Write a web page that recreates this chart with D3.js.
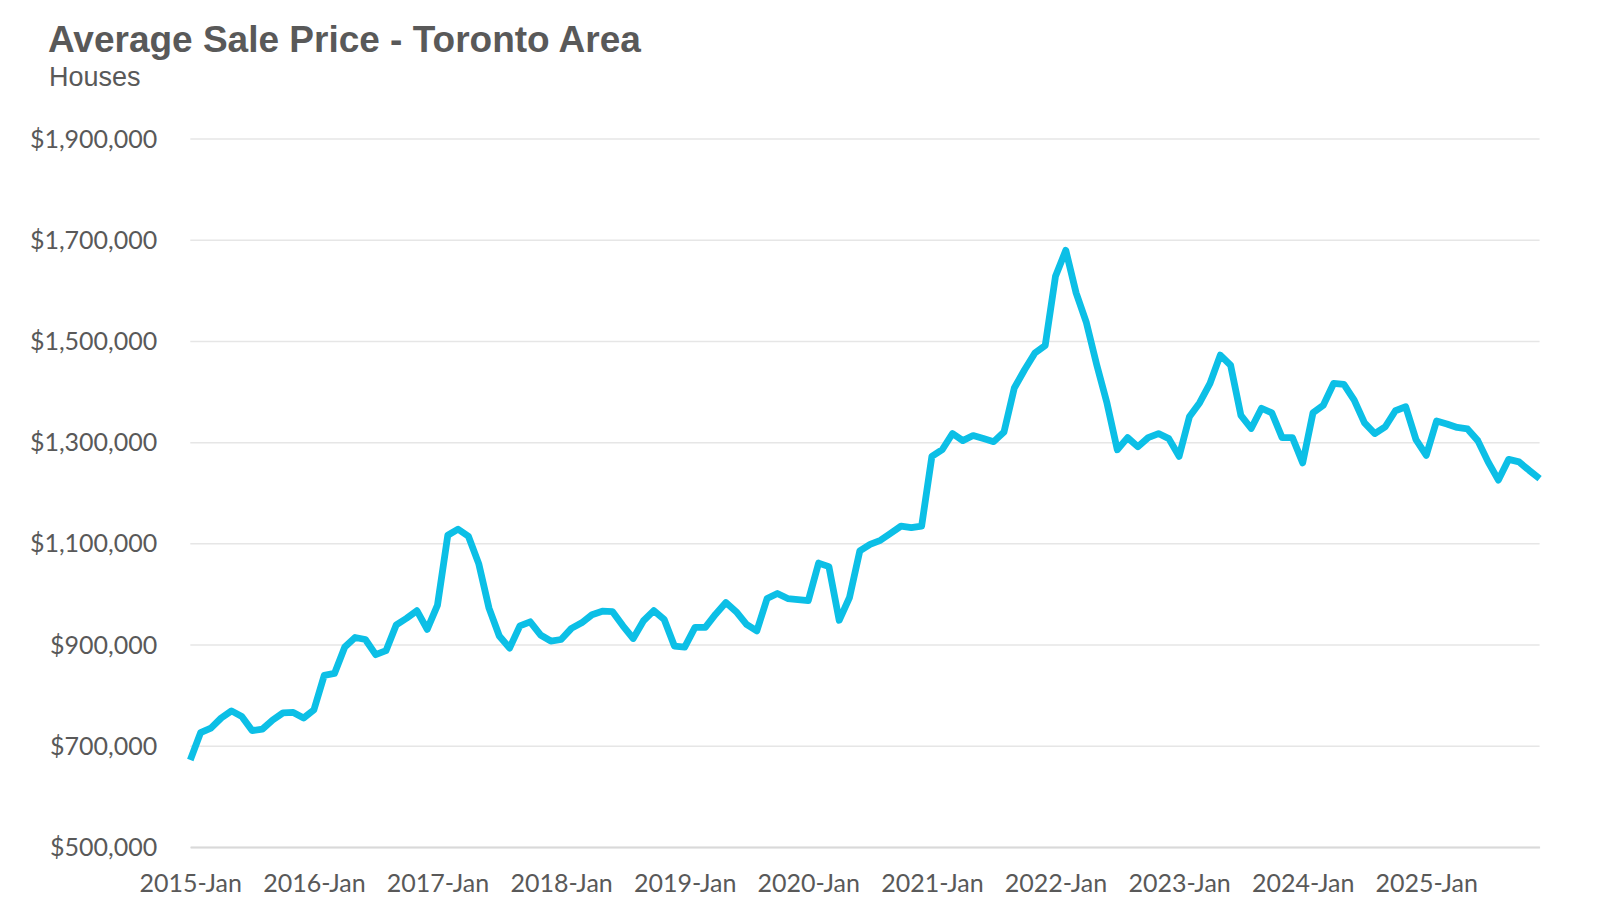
<!DOCTYPE html>
<html lang="en">
<head>
<meta charset="utf-8">
<title>Average Sale Price - Toronto Area</title>
<script src="https://d3js.org/d3.v7.min.js"></script>
<style>
  body { margin: 0; background: #fff; }
  .tick text { font-family: Lato, "Open Sans", sans-serif; font-size: 25px; fill: #595959; }
</style>
</head>
<body>
<svg id="chart"></svg>
<script>
  // monthly average sale price, houses, by year (Jan..Dec)
  const price2015 = [672000, 726000, 735000, 755000, 769000, 758000, 730000, 733000, 751000, 765000, 766000, 755000];
  const price2016 = [771000, 839000, 843000, 895000, 914000, 910000, 880000, 888000, 939000, 952000, 967000, 930000];
  const price2017 = [978000, 1116000, 1128000, 1114000, 1060000, 972000, 917000, 893000, 937000, 945000, 919000, 907000];
  const price2018 = [910000, 932000, 943000, 959000, 966000, 965000, 937000, 912000, 947000, 967000, 950000, 897000];
  const price2019 = [895000, 934000, 934000, 960000, 983000, 965000, 940000, 927000, 991000, 1001000, 991000, 989000];
  const price2020 = [987000, 1061000, 1054000, 948000, 993000, 1085000, 1098000, 1106000, 1120000, 1134000, 1131000, 1134000];
  const price2021 = [1272000, 1285000, 1317000, 1303000, 1313000, 1307000, 1301000, 1320000, 1407000, 1443000, 1476000, 1491000];
  const price2022 = [1628000, 1679000, 1595000, 1536000, 1453000, 1377000, 1285000, 1309000, 1291000, 1309000, 1317000, 1307000];
  const price2023 = [1272000, 1350000, 1378000, 1416000, 1472000, 1452000, 1353000, 1327000, 1367000, 1358000, 1309000, 1309000];
  const price2024 = [1259000, 1358000, 1373000, 1416000, 1414000, 1383000, 1338000, 1317000, 1330000, 1362000, 1370000, 1305000];
  const price2025 = [1274000, 1342000, 1336000, 1329000, 1326000, 1303000, 1261000, 1225000, 1266000, 1261000, 1244000, 1228000];

  const years = [2015, 2016, 2017, 2018, 2019, 2020, 2021, 2022, 2023, 2024, 2025];
  const monthNames = ["Jan", "Feb", "Mar", "Apr", "May", "Jun", "Jul", "Aug", "Sep", "Oct", "Nov", "Dec"];
  const xTickLabels = ["2015-Jan", "2016-Jan", "2017-Jan", "2018-Jan", "2019-Jan", "2020-Jan",
                       "2021-Jan", "2022-Jan", "2023-Jan", "2024-Jan", "2025-Jan"];
  const yTicks = [500000, 700000, 900000, 1100000, 1300000, 1500000, 1700000, 1900000];

  const byYear = [price2015, price2016, price2017, price2018, price2019, price2020,
                  price2021, price2022, price2023, price2024, price2025];

  let data = [];
  years.forEach(function (yr, i) {
    byYear[i].forEach(function (v, m) {
      data.push({ label: yr + "-" + monthNames[m], value: v });
    });
  });

  // basic parameters
  let chartW = 1600, chartH = 921;
  let plotLeft = 190.3, plotRight = 1539.6, plotTop = 138.5, plotBottom = 847;

  let svg = d3.select("#chart").attr("width", chartW).attr("height", chartH);

  let x = d3.scalePoint()
    .domain(data.map(d => d.label))
    .range([plotLeft, plotRight]);
  let y = d3.scaleLinear()
    .domain([500000, 1900000])
    .range([plotBottom, plotTop]);

  // gridlines + y labels
  let yAxis = d3.axisLeft(y)
    .tickValues(yTicks)
    .tickFormat(d3.format("$,"))
    .tickSize(-(plotRight - plotLeft))
    .tickPadding(33);
  let yg = svg.append("g")
    .attr("transform", "translate(" + plotLeft + ",0)")
    .call(yAxis);
  yg.select(".domain").remove();
  yg.selectAll(".tick line")
    .attr("stroke", "#e6e6e6")
    .attr("stroke-width", 1.5);
  yg.selectAll(".tick text").attr("dy", "0.34em");

  // x axis
  let xAxis = d3.axisBottom(x)
    .tickValues(xTickLabels)
    .tickSize(0);
  let xg = svg.append("g")
    .attr("transform", "translate(0," + plotBottom + ")")
    .call(xAxis);
  xg.select(".domain")
    .attr("stroke", "#d9d9d9")
    .attr("stroke-width", 2);
  xg.selectAll(".tick text")
    .attr("y", 45)
    .attr("dy", 0);

  // price line
  let line = d3.line()
    .x(d => x(d.label))
    .y(d => y(d.value));
  svg.append("path")
    .datum(data)
    .attr("d", line)
    .attr("fill", "none")
    .attr("stroke", "#0cbfe6")
    .attr("stroke-width", 6.8)
    .attr("stroke-linejoin", "round");

  // titles
  svg.append("text")
    .text("Average Sale Price - Toronto Area")
    .attr("x", 48)
    .attr("y", 52)
    .style("font-family", "'Liberation Sans', Arial, sans-serif")
    .style("font-weight", "bold")
    .style("font-size", "37px")
    .style("fill", "#595959");
  svg.append("text")
    .text("Houses")
    .attr("x", 49)
    .attr("y", 86)
    .style("font-family", "'Liberation Sans', Arial, sans-serif")
    .style("font-size", "27px")
    .style("fill", "#595959");
</script>
</body>
</html>
